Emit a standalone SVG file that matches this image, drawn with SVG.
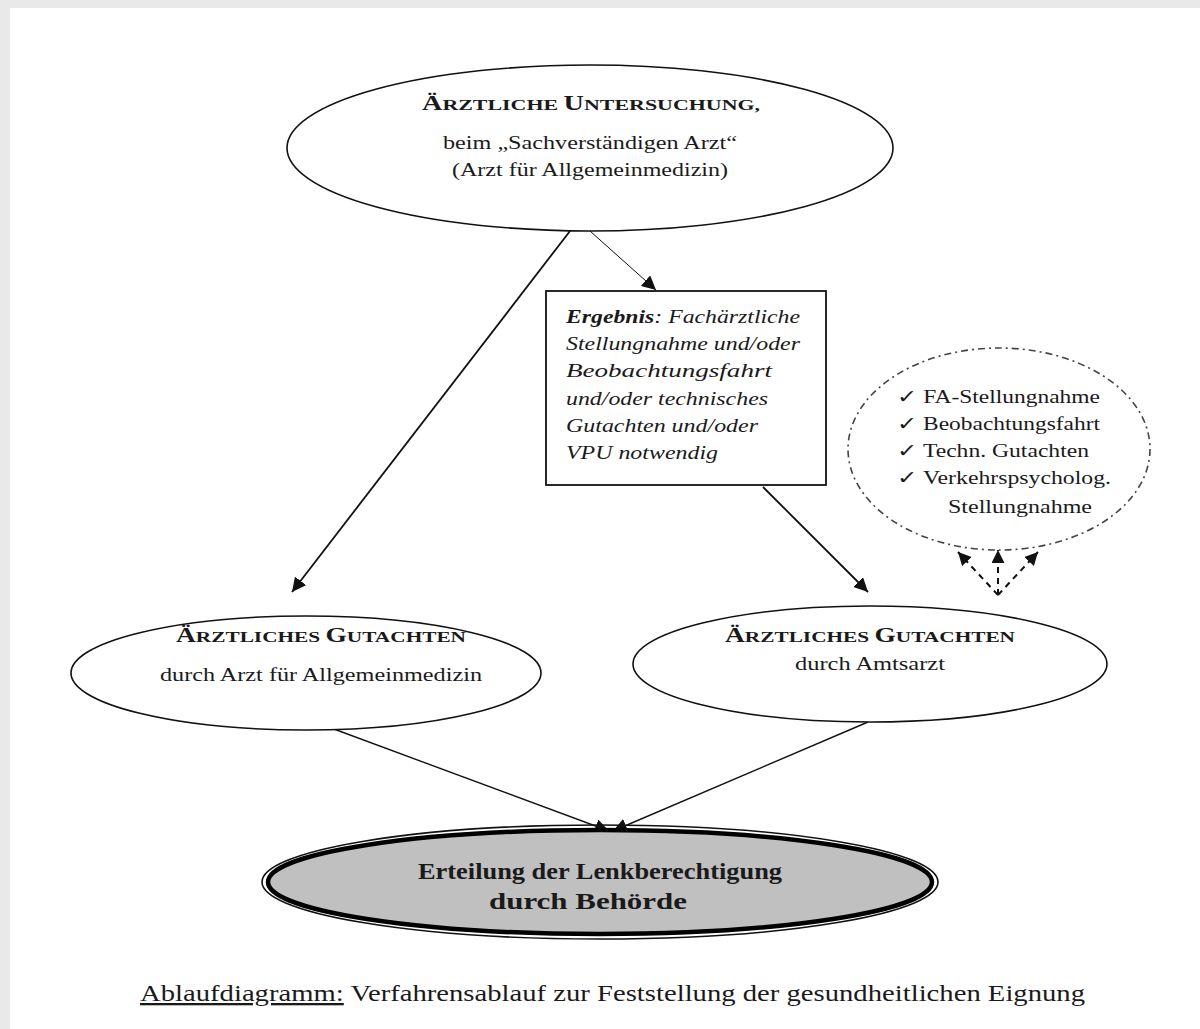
<svg xmlns="http://www.w3.org/2000/svg" width="1200" height="1029" viewBox="0 0 1200 1029" font-family="'Liberation Serif', 'DejaVu Serif', serif">
<defs>
<style>
text{font-family:'Liberation Serif','DejaVu Serif',serif;fill:#1a1a1a}
.node{fill:#fff;stroke:#111;stroke-width:1.6}
.conn{stroke:#111;fill:none}
</style>
<marker id="ah" viewBox="0 0 10 10" refX="10" refY="5" markerWidth="14" markerHeight="14" markerUnits="userSpaceOnUse" orient="auto">
<path d="M0,0 L10,5 L0,10 z" fill="#111"/>
</marker>
<marker id="ahd" viewBox="0 0 10 10" refX="10" refY="5" markerWidth="13" markerHeight="13" markerUnits="userSpaceOnUse" orient="auto">
<path d="M0,0 L10,5 L0,10 z" fill="#111"/>
</marker>
</defs>
<rect x="0" y="0" width="1200" height="1029" fill="#fff"/>
<rect x="0" y="0" width="1200" height="8" fill="#e9e9e9"/>
<rect x="0" y="0" width="10" height="1029" fill="#e9e9e9"/>

<g id="connectors">
<line class="conn" x1="570" y1="231" x2="292" y2="592" stroke-width="1.8" marker-end="url(#ah)"/>
<line class="conn" x1="590" y1="231" x2="656" y2="290" stroke-width="1" marker-end="url(#ah)"/>
<line class="conn" x1="763" y1="487" x2="868" y2="592" stroke-width="1.8" marker-end="url(#ah)"/>
<line class="conn" x1="315" y1="722" x2="609" y2="831" stroke-width="1.4" marker-end="url(#ah)"/>
<line class="conn" x1="868" y1="722" x2="613" y2="831" stroke-width="1.4" marker-end="url(#ah)"/>
<g stroke-dasharray="6,5" stroke-width="2">
<line class="conn" x1="998" y1="595" x2="958" y2="552" marker-end="url(#ahd)"/>
<line class="conn" x1="998" y1="595" x2="998" y2="550" marker-end="url(#ahd)"/>
<line class="conn" x1="998" y1="595" x2="1038" y2="552" marker-end="url(#ahd)"/>
</g>
</g>

<g id="node-untersuchung">
<ellipse class="node" cx="590" cy="148" rx="303" ry="83"/>
<text x="591" y="110" text-anchor="middle" font-weight="bold" textLength="338" lengthAdjust="spacingAndGlyphs"><tspan font-size="20">Ä</tspan><tspan font-size="15.5">RZTLICHE </tspan><tspan font-size="20">U</tspan><tspan font-size="15.5">NTERSUCHUNG,</tspan></text>
<text x="590" y="149" text-anchor="middle" font-size="18.5" textLength="294" lengthAdjust="spacingAndGlyphs">beim „Sachverständigen Arzt“</text>
<text x="590" y="176" text-anchor="middle" font-size="18.5" textLength="276" lengthAdjust="spacingAndGlyphs">(Arzt für Allgemeinmedizin)</text>
</g>

<g id="node-ergebnis">
<rect x="546" y="291" width="280" height="194" fill="#fff" stroke="#111" stroke-width="1.8"/>
<g font-style="italic" font-size="19">
<text x="566" y="323" font-style="italic" textLength="234" lengthAdjust="spacingAndGlyphs"><tspan font-weight="bold">Ergebnis</tspan>: Fachärztliche</text>
<text x="566" y="350" font-style="italic" textLength="234" lengthAdjust="spacingAndGlyphs">Stellungnahme und/oder</text>
<text x="566" y="377" font-style="italic" textLength="206" lengthAdjust="spacingAndGlyphs">Beobachtungsfahrt</text>
<text x="566" y="405" font-style="italic" textLength="202" lengthAdjust="spacingAndGlyphs">und/oder technisches</text>
<text x="566" y="432" font-style="italic" textLength="192" lengthAdjust="spacingAndGlyphs">Gutachten und/oder</text>
<text x="566" y="459" font-style="italic" textLength="152" lengthAdjust="spacingAndGlyphs">VPU notwendig</text>
</g>
</g>

<g id="node-untersuchungen-liste">
<ellipse cx="999" cy="449" rx="151" ry="101" fill="#fff" stroke="#444" stroke-width="1.6" stroke-dasharray="7,4,2,4"/>
<g font-size="18.5">
<text x="897" y="403" textLength="203" lengthAdjust="spacingAndGlyphs">✓ FA-Stellungnahme</text>
<text x="897" y="430" textLength="203" lengthAdjust="spacingAndGlyphs">✓ Beobachtungsfahrt</text>
<text x="897" y="457" textLength="192" lengthAdjust="spacingAndGlyphs">✓ Techn. Gutachten</text>
<text x="897" y="484" textLength="214" lengthAdjust="spacingAndGlyphs">✓ Verkehrspsycholog.</text>
<text x="948" y="513" textLength="144" lengthAdjust="spacingAndGlyphs">Stellungnahme</text>
</g>
</g>

<g id="node-gutachten-allgemein">
<ellipse class="node" cx="306" cy="673" rx="235" ry="57"/>
<text x="321" y="642" text-anchor="middle" font-weight="bold" textLength="290" lengthAdjust="spacingAndGlyphs"><tspan font-size="20">Ä</tspan><tspan font-size="15.5">RZTLICHES </tspan><tspan font-size="20">G</tspan><tspan font-size="15.5">UTACHTEN</tspan></text>
<text x="321" y="681" text-anchor="middle" font-size="18.5" textLength="322" lengthAdjust="spacingAndGlyphs">durch Arzt für Allgemeinmedizin</text>
</g>

<g id="node-gutachten-amtsarzt">
<ellipse class="node" cx="870" cy="664" rx="237" ry="58"/>
<text x="870" y="642" text-anchor="middle" font-weight="bold" textLength="290" lengthAdjust="spacingAndGlyphs"><tspan font-size="20">Ä</tspan><tspan font-size="15.5">RZTLICHES </tspan><tspan font-size="20">G</tspan><tspan font-size="15.5">UTACHTEN</tspan></text>
<text x="870" y="670" text-anchor="middle" font-size="18.5" textLength="150" lengthAdjust="spacingAndGlyphs">durch Amtsarzt</text>
</g>

<g id="node-lenkberechtigung">
<ellipse cx="600" cy="882" rx="338" ry="57" fill="none" stroke="#111" stroke-width="1.6"/>
<ellipse cx="600" cy="882" rx="332" ry="52" fill="#c0c0c0" stroke="#000" stroke-width="4.5"/>
<text x="600" y="879" text-anchor="middle" font-size="23" font-weight="bold" textLength="364" lengthAdjust="spacingAndGlyphs">Erteilung der Lenkberechtigung</text>
<text x="588" y="909" text-anchor="middle" font-size="23" font-weight="bold" textLength="198" lengthAdjust="spacingAndGlyphs">durch Behörde</text>
</g>

<g id="caption">
<text x="140" y="1001" font-size="23" textLength="945" lengthAdjust="spacingAndGlyphs"><tspan text-decoration="underline">Ablaufdiagramm:</tspan> Verfahrensablauf zur Feststellung der gesundheitlichen Eignung</text>
</g>
</svg>
